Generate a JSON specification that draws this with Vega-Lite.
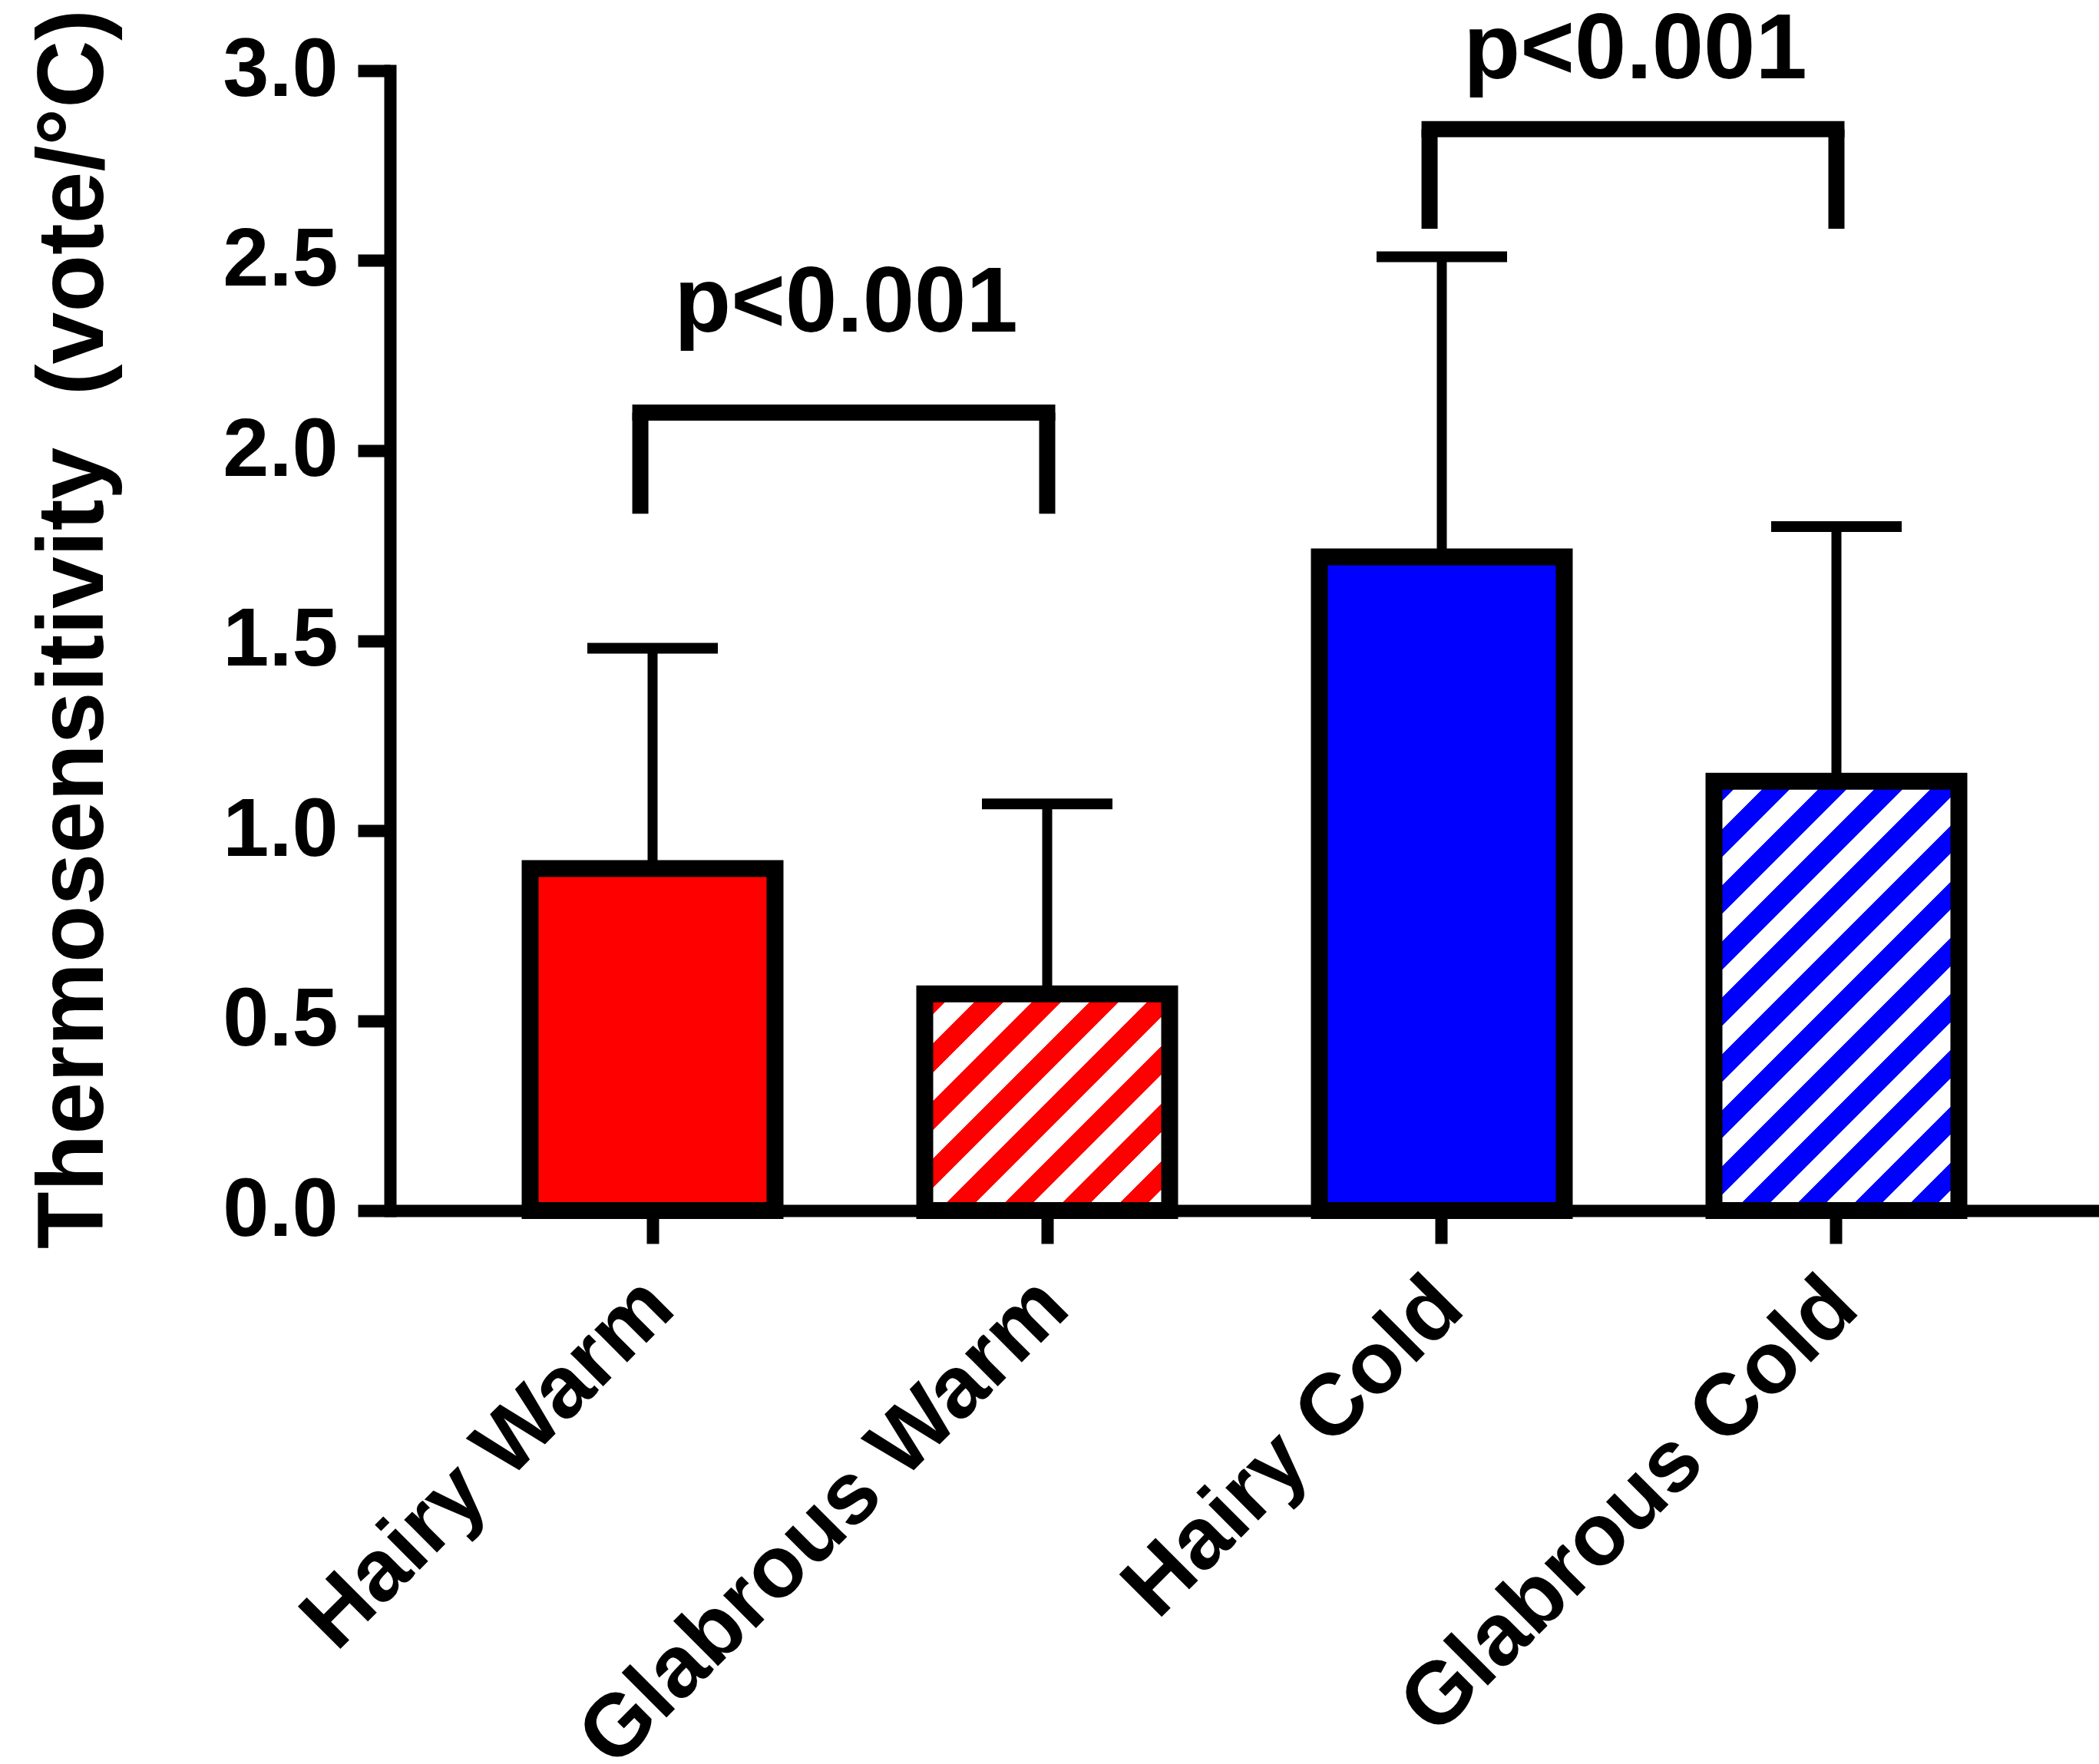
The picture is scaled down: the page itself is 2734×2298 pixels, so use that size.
{
  "$schema": "https://vega.github.io/schema/vega-lite/v6.json",
  "width": 2226,
  "height": 1485,
  "autosize": {"type": "none"},
  "padding": {"left": 508, "top": 92, "right": 0, "bottom": 721},
  "background": "white",
  "config": {"view": {"stroke": null}, "font": "Liberation Sans"},
  "datasets": {
    "bars": [
      {"group": "Hairy Warm", "mean": 0.90, "upper": 1.48},
      {"group": "Glabrous Warm", "mean": 0.57, "upper": 1.07},
      {"group": "Hairy Cold", "mean": 1.72, "upper": 2.51},
      {"group": "Glabrous Cold", "mean": 1.13, "upper": 1.80}
    ],
    "brackets": [
      {"from": "Hairy Warm", "to": "Glabrous Warm", "bar": 2.10, "leg": 1.834, "label": "p<0.001", "labelY": 2.313},
      {"from": "Hairy Cold", "to": "Glabrous Cold", "bar": 2.846, "leg": 2.584, "label": "p<0.001", "labelY": 2.98}
    ]
  },
  "encoding": {
    "x": {
      "field": "group",
      "type": "nominal",
      "sort": ["Hairy Warm", "Glabrous Warm", "Hairy Cold", "Glabrous Cold"],
      "scale": {
        "type": "band",
        "domain": ["Hairy Warm", "Glabrous Warm", "Hairy Cold", "Glabrous Cold"],
        "paddingInner": 0.3794,
        "paddingOuter": 0.3551
      },
      "axis": {
        "title": null,
        "labelAngle": -45,
        "labelAlign": "right",
        "labelBaseline": "alphabetic",
        "labelFont": "Liberation Sans",
        "labelFontSize": 114,
        "labelFontWeight": "bold",
        "labelColor": "black",
        "labelPadding": 88,
        "labelOffset": 33,
        "tickSize": 43,
        "tickWidth": 16,
        "tickColor": "black",
        "domainWidth": 16,
        "domainColor": "black",
        "labelOverlap": false,
        "labelLimit": 0,
        "grid": false,
        "zindex": 1
      }
    },
    "y": {
      "field": "mean",
      "type": "quantitative",
      "scale": {"domain": [0, 3], "nice": false, "zero": true},
      "axis": {
        "title": "Thermosensitivity \u00a0(vote/°C)",
        "titleFont": "Liberation Sans",
        "titleFontSize": 122,
        "titleFontWeight": "bold",
        "titleColor": "black",
        "titleAngle": -90,
        "titleX": -375,
        "titleY": 727,
        "titleAlign": "center",
        "titleBaseline": "alphabetic",
        "values": [0, 0.5, 1, 1.5, 2, 2.5, 3],
        "format": ".1f",
        "labelFont": "Liberation Sans",
        "labelFontSize": 108,
        "labelFontWeight": "bold",
        "labelColor": "black",
        "labelPadding": 26,
        "labelFlush": false,
        "labelOverlap": false,
        "tickSize": 42,
        "tickWidth": 16,
        "tickColor": "black",
        "domainWidth": 16,
        "domainColor": "black",
        "domainCap": "square",
        "grid": false,
        "zindex": 1
      }
    }
  },
  "layer": [
    {
      "data": {"name": "bars"},
      "mark": {"type": "rule", "color": "black", "strokeWidth": 13},
      "encoding": {
        "y2": {"field": "upper"}
      }
    },
    {
      "data": {"name": "bars"},
      "mark": {"type": "tick", "color": "black", "size": 170, "thickness": 14, "opacity": 1},
      "encoding": {
        "y": {"field": "upper", "type": "quantitative"}
      }
    },
    {
      "data": {"name": "bars"},
      "transform": [{"filter": "datum.group === 'Hairy Warm' || datum.group === 'Hairy Cold'"}],
      "mark": {"type": "bar", "stroke": "black", "strokeWidth": 22, "strokeJoin": "miter"},
      "encoding": {
        "fill": {
          "field": "group",
          "type": "nominal",
          "scale": {"domain": ["Hairy Warm", "Hairy Cold"], "range": ["#FF0000", "#0000FF"]},
          "legend": null
        }
      }
    },
    {
      "data": {"name": "bars"},
      "transform": [{"filter": "datum.group === 'Glabrous Warm'"}],
      "mark": {
        "type": "bar",
        "stroke": "black",
        "strokeWidth": 22,
        "strokeJoin": "miter",
        "fill": {
          "gradient": "linear",
          "x1": 0, "y1": 0, "x2": 1.0572, "y2": 0.9353,
          "stops": [
            {"offset": 0, "color": "#FF0000"}, {"offset": 0.0625, "color": "#FF0000"}, {"offset": 0.0625, "color": "#FFFFFF"}, {"offset": 0.125, "color": "#FFFFFF"},
            {"offset": 0.125, "color": "#FF0000"}, {"offset": 0.1875, "color": "#FF0000"}, {"offset": 0.1875, "color": "#FFFFFF"}, {"offset": 0.25, "color": "#FFFFFF"},
            {"offset": 0.25, "color": "#FF0000"}, {"offset": 0.3125, "color": "#FF0000"}, {"offset": 0.3125, "color": "#FFFFFF"}, {"offset": 0.375, "color": "#FFFFFF"},
            {"offset": 0.375, "color": "#FF0000"}, {"offset": 0.4375, "color": "#FF0000"}, {"offset": 0.4375, "color": "#FFFFFF"}, {"offset": 0.5, "color": "#FFFFFF"},
            {"offset": 0.5, "color": "#FF0000"}, {"offset": 0.5625, "color": "#FF0000"}, {"offset": 0.5625, "color": "#FFFFFF"}, {"offset": 0.625, "color": "#FFFFFF"},
            {"offset": 0.625, "color": "#FF0000"}, {"offset": 0.6875, "color": "#FF0000"}, {"offset": 0.6875, "color": "#FFFFFF"}, {"offset": 0.75, "color": "#FFFFFF"},
            {"offset": 0.75, "color": "#FF0000"}, {"offset": 0.8125, "color": "#FF0000"}, {"offset": 0.8125, "color": "#FFFFFF"}, {"offset": 0.875, "color": "#FFFFFF"},
            {"offset": 0.875, "color": "#FF0000"}, {"offset": 0.9375, "color": "#FF0000"}, {"offset": 0.9375, "color": "#FFFFFF"}, {"offset": 1, "color": "#FFFFFF"}
          ]
        }
      },
      "encoding": {}
    },
    {
      "data": {"name": "bars"},
      "transform": [{"filter": "datum.group === 'Glabrous Cold'"}],
      "mark": {
        "type": "bar",
        "stroke": "black",
        "strokeWidth": 22,
        "strokeJoin": "miter",
        "fill": {
          "gradient": "linear",
          "x1": 0, "y1": 0, "x2": 0.6757, "y2": 1.1849,
          "stops": [
            {"offset": 0, "color": "#0000FF"}, {"offset": 0.0417, "color": "#0000FF"}, {"offset": 0.0417, "color": "#FFFFFF"}, {"offset": 0.0833, "color": "#FFFFFF"},
            {"offset": 0.0833, "color": "#0000FF"}, {"offset": 0.125, "color": "#0000FF"}, {"offset": 0.125, "color": "#FFFFFF"}, {"offset": 0.1667, "color": "#FFFFFF"},
            {"offset": 0.1667, "color": "#0000FF"}, {"offset": 0.2083, "color": "#0000FF"}, {"offset": 0.2083, "color": "#FFFFFF"}, {"offset": 0.25, "color": "#FFFFFF"},
            {"offset": 0.25, "color": "#0000FF"}, {"offset": 0.2917, "color": "#0000FF"}, {"offset": 0.2917, "color": "#FFFFFF"}, {"offset": 0.3333, "color": "#FFFFFF"},
            {"offset": 0.3333, "color": "#0000FF"}, {"offset": 0.375, "color": "#0000FF"}, {"offset": 0.375, "color": "#FFFFFF"}, {"offset": 0.4167, "color": "#FFFFFF"},
            {"offset": 0.4167, "color": "#0000FF"}, {"offset": 0.4583, "color": "#0000FF"}, {"offset": 0.4583, "color": "#FFFFFF"}, {"offset": 0.5, "color": "#FFFFFF"},
            {"offset": 0.5, "color": "#0000FF"}, {"offset": 0.5417, "color": "#0000FF"}, {"offset": 0.5417, "color": "#FFFFFF"}, {"offset": 0.5833, "color": "#FFFFFF"},
            {"offset": 0.5833, "color": "#0000FF"}, {"offset": 0.625, "color": "#0000FF"}, {"offset": 0.625, "color": "#FFFFFF"}, {"offset": 0.6667, "color": "#FFFFFF"},
            {"offset": 0.6667, "color": "#0000FF"}, {"offset": 0.7083, "color": "#0000FF"}, {"offset": 0.7083, "color": "#FFFFFF"}, {"offset": 0.75, "color": "#FFFFFF"},
            {"offset": 0.75, "color": "#0000FF"}, {"offset": 0.7917, "color": "#0000FF"}, {"offset": 0.7917, "color": "#FFFFFF"}, {"offset": 0.8333, "color": "#FFFFFF"},
            {"offset": 0.8333, "color": "#0000FF"}, {"offset": 0.875, "color": "#0000FF"}, {"offset": 0.875, "color": "#FFFFFF"}, {"offset": 0.9167, "color": "#FFFFFF"},
            {"offset": 0.9167, "color": "#0000FF"}, {"offset": 0.9583, "color": "#0000FF"}, {"offset": 0.9583, "color": "#FFFFFF"}, {"offset": 1, "color": "#FFFFFF"}
          ]
        }
      },
      "encoding": {}
    },
    {
      "data": {"name": "brackets"},
      "mark": {"type": "rule", "color": "black", "strokeWidth": 21, "strokeCap": "square"},
      "encoding": {
        "x": {"field": "from", "type": "nominal", "bandPosition": 0.45},
        "x2": {"field": "to"},
        "y": {"field": "bar", "type": "quantitative"}
      }
    },
    {
      "data": {"name": "brackets"},
      "mark": {"type": "rule", "color": "black", "strokeWidth": 21, "strokeCap": "butt"},
      "encoding": {
        "x": {"field": "from", "type": "nominal", "bandPosition": 0.45},
        "y": {"field": "bar", "type": "quantitative"},
        "y2": {"field": "leg"}
      }
    },
    {
      "data": {"name": "brackets"},
      "mark": {"type": "rule", "color": "black", "strokeWidth": 21, "strokeCap": "butt"},
      "encoding": {
        "x": {"field": "to", "type": "nominal"},
        "y": {"field": "bar", "type": "quantitative"},
        "y2": {"field": "leg"}
      }
    },
    {
      "data": {"name": "brackets"},
      "mark": {"type": "text", "font": "Liberation Sans", "fontWeight": "bold", "fontSize": 121, "align": "center", "baseline": "alphabetic", "color": "black"},
      "encoding": {
        "x": {"field": "from", "type": "nominal", "bandPosition": 1.29},
        "y": {"field": "labelY", "type": "quantitative"},
        "text": {"field": "label"}
      }
    }
  ]
}
